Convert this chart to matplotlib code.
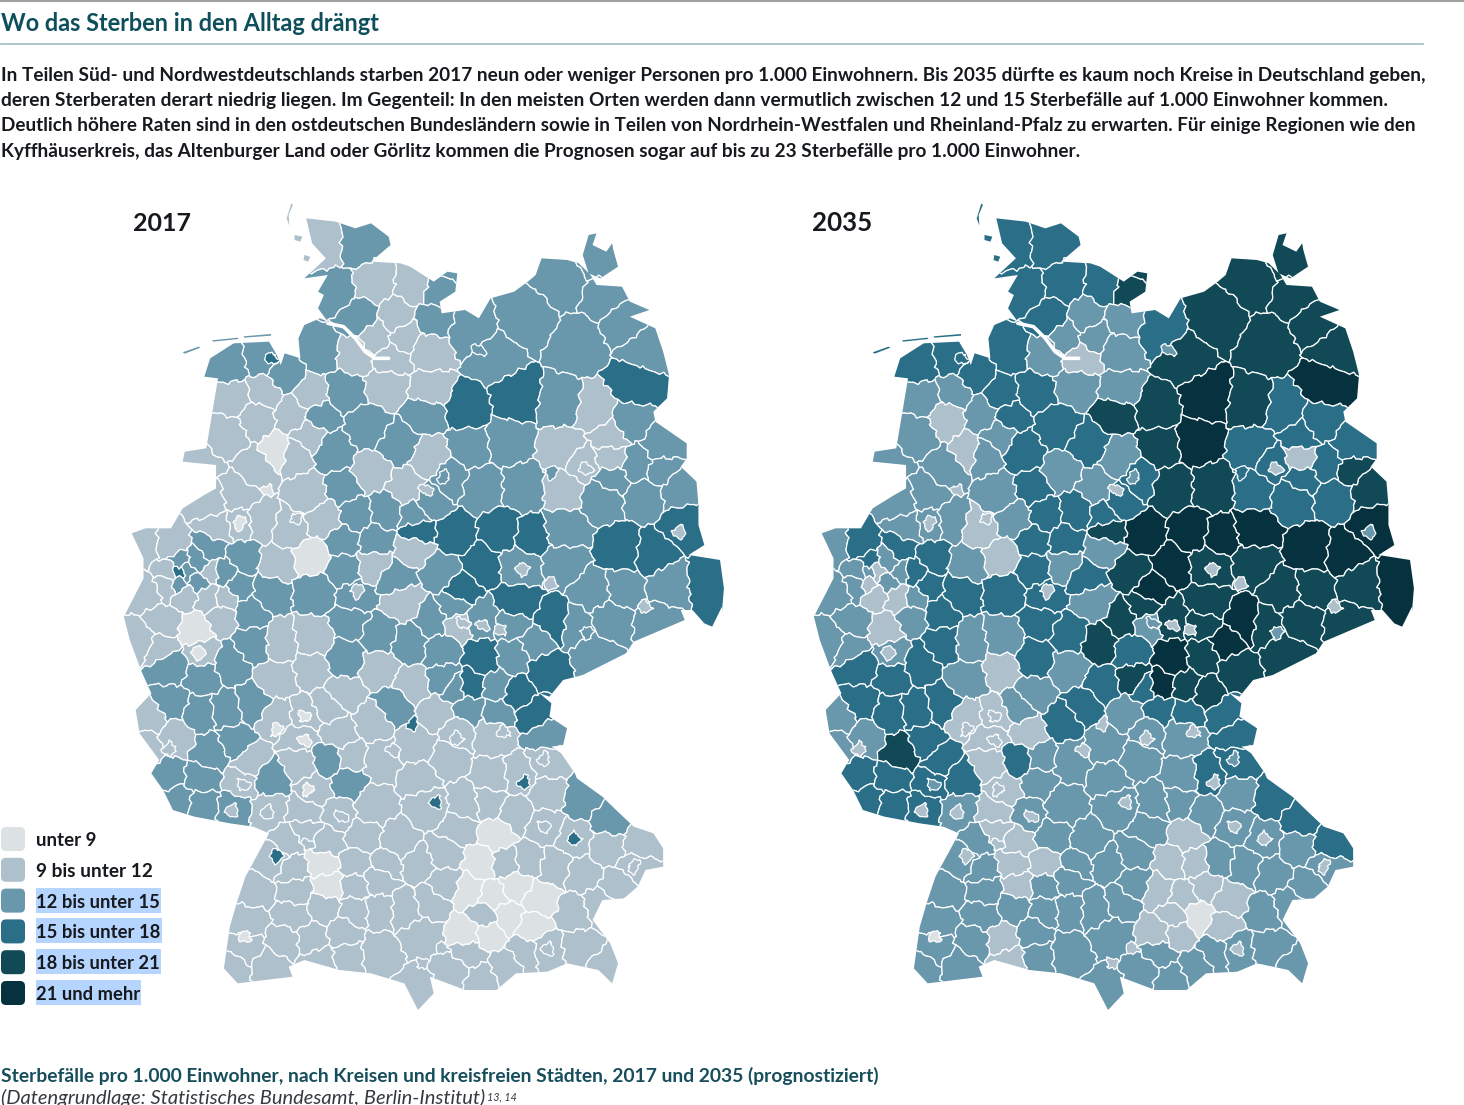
#!/usr/bin/env python3
"""Sterbefaelle pro 1.000 Einwohner, Kreise 2017 und 2035 - zwei Karten nebeneinander."""
import numpy as np
import matplotlib
matplotlib.use('Agg')
import matplotlib.pyplot as plt
from matplotlib.patches import PathPatch, Polygon, FancyBboxPatch, Rectangle
from matplotlib.path import Path
from matplotlib.transforms import Affine2D

# ---------- data ----------
CLASS_LABELS = ['unter 9', '9 bis unter 12', '12 bis unter 15', '15 bis unter 18',
                '18 bis unter 21', '21 und mehr']
CLASS_COLORS = ['#dce1e4', '#adc0cc', '#6997ac', '#2a6f87', '#114a56', '#06323f']
LABEL_WIDTHS = [61, 116, 124, 125, 124, 104]
YEARS = ['2017', '2035']

TITLE = 'Wo das Sterben in den Alltag drängt'
BODY = [
    'In Teilen Süd- und Nordwestdeutschlands starben 2017 neun oder weniger Personen pro 1.000 Einwohnern. Bis 2035 dürfte es kaum noch Kreise in Deutschland geben,',
    'deren Sterberaten derart niedrig liegen. Im Gegenteil: In den meisten Orten werden dann vermutlich zwischen 12 und 15 Sterbefälle auf 1.000 Einwohner kommen.',
    'Deutlich höhere Raten sind in den ostdeutschen Bundesländern sowie in Teilen von Nordrhein-Westfalen und Rheinland-Pfalz zu erwarten. Für einige Regionen wie den',
    'Kyffhäuserkreis, das Altenburger Land oder Görlitz kommen die Prognosen sogar auf bis zu 23 Sterbefälle pro 1.000 Einwohner.',
]
BODY_WIDTHS = [1422, 1384, 1415, 1082]
CAPTION = 'Sterbefälle pro 1.000 Einwohner, nach Kreisen und kreisfreien Städten, 2017 und 2035 (prognostiziert)'
SOURCE = '(Datengrundlage: Statistisches Bundesamt, Berlin-Institut)'

nord_x, nord_y, nord_2017, nord_2035 = zip(*[
    # Schleswig-Holstein, Hamburg
    (520, 150, 1, 3), (610, 150, 2, 3), (650, 260, 1, 3), (750, 270, 1, 3), (815, 290, 2, 4),
    (545, 290, 2, 3), (610, 370, 2, 3), (705, 370, 1, 2), (800, 375, 2, 2), (650, 425, 1, 2),
    (725, 420, 1, 2), (790, 465, 1, 2), (690, 495, 1, 1), (860, 210, 2, 4),
    # Mecklenburg-Vorpommern
    (890, 410, 2, 3), (1040, 370, 2, 4), (1130, 260, 2, 4), (1225, 190, 2, 4), (1170, 450, 2, 4),
    (1290, 380, 2, 4), (1340, 460, 2, 4), (950, 490, 2, 4), (1240, 300, 2, 4),
    # Brandenburg, Berlin
    (1310, 570, 3, 5), (1010, 610, 3, 5), (1125, 630, 2, 4), (1210, 650, 1, 3), (1300, 680, 2, 3),
    (1380, 750, 2, 3), (1250, 790, 1, 1), (1130, 760, 1, 3), (1130, 880, 1, 3), (1230, 900, 2, 3),
    (1340, 900, 2, 3), (1380, 830, 2, 4), (1440, 990, 3, 5), (1130, 1010, 2, 5), (1280, 1070, 3, 5),
    (1360, 1080, 3, 5), (1420, 880, 2, 4), (1250, 725, 1, 3), (1320, 810, 2, 3), (1180, 810, 1, 3),
    (1250, 855, 2, 3),
    # Sachsen
    (1500, 1160, 3, 5), (1400, 1170, 2, 4), (1280, 1180, 2, 4), (1130, 1100, 2, 4), (1210, 1190, 2, 4),
    # Sachsen-Anhalt
    (880, 640, 3, 4), (990, 740, 2, 5), (890, 760, 2, 4), (1030, 880, 2, 4), (920, 880, 2, 4),
    (970, 1010, 3, 5), (850, 1020, 3, 5), (760, 1010, 3, 4), (1050, 1030, 3, 5), (920, 1110, 3, 5),
    (1020, 1110, 2, 4), (870, 1180, 3, 5), (1010, 1230, 3, 4), (790, 920, 2, 3),
    # Niedersachsen, Bremen
    (780, 650, 2, 4), (790, 590, 1, 2), (680, 570, 1, 2), (510, 470, 2, 3), (600, 480, 1, 2),
    (570, 590, 2, 3), (490, 600, 1, 3), (630, 700, 2, 3), (710, 750, 2, 3), (640, 830, 1, 2),
    (790, 790, 1, 2), (730, 880, 1, 2), (840, 850, 2, 3), (570, 880, 2, 3), (545, 770, 2, 3),
    (480, 720, 1, 2), (420, 540, 2, 3), (370, 590, 1, 2), (360, 490, 2, 3), (280, 510, 2, 3),
    (290, 610, 1, 2), (270, 720, 1, 2), (350, 670, 1, 1), (405, 770, 0, 1), (350, 820, 1, 2),
    (200, 810, 1, 2), (440, 660, 1, 2), (510, 660, 2, 3), (600, 960, 2, 3), (680, 950, 2, 3),
    (750, 960, 2, 3), (650, 1040, 2, 3),
    # Nordrhein-Westfalen, Hessen Nord, Thueringen Nord
    (300, 900, 1, 2), (230, 920, 1, 2), (440, 780, 1, 2), (480, 900, 1, 2), (305, 985, 1, 2),
    (250, 1000, 1, 2), (360, 980, 1, 2), (430, 1000, 1, 1), (490, 1090, 0, 1), (520, 970, 1, 2),
    (400, 1110, 1, 2), (570, 1040, 2, 3), (570, 1120, 2, 3), (650, 1110, 1, 2), (750, 1060, 1, 2),
    (820, 1130, 2, 4), (700, 1150, 2, 3), (60, 1060, 1, 2), (130, 1060, 1, 3), (230, 1060, 2, 3),
    (310, 1090, 2, 3), (300, 1180, 2, 3), (150, 1130, 3, 2), (125, 1130, 1, 2), (175, 1130, 2, 1),
    (150, 1165, 2, 1), (150, 1100, 2, 3), (200, 1100, 2, 2), (200, 1160, 2, 2), (230, 1130, 1, 2),
    (265, 1130, 2, 3), (170, 1195, 1, 1), (120, 1170, 1, 2), (225, 1210, 1, 1), (270, 1210, 1, 2),
    (70, 1190, 1, 2), (380, 1190, 2, 3), (500, 1190, 2, 3), (600, 1210, 2, 3),
    (720, 1220, 1, 2), (850, 1240, 2, 4),
])

sued_x, sued_y, sued_2017, sued_2035 = zip(*[
    # Rheinland, Hessen, Rheinland-Pfalz, Saarland
    (60, 120, 1, 2), (110, 70, 1, 2), (195, 90, 0, 1), (260, 50, 1, 2), (330, 40, 2, 3),
    (100, 140, 1, 2), (210, 160, 1, 2), (130, 200, 2, 3), (210, 230, 2, 3), (280, 190, 2, 3),
    (340, 130, 2, 3), (410, 130, 1, 2), (490, 115, 1, 2), (490, 210, 1, 1), (575, 180, 2, 3),
    (660, 210, 1, 2), (740, 260, 1, 3), (590, 60, 2, 3), (660, 100, 2, 3), (130, 310, 2, 3),
    (80, 350, 1, 2), (70, 440, 1, 2), (140, 410, 1, 2), (205, 340, 2, 3), (235, 460, 2, 4),
    (290, 430, 2, 3), (340, 310, 2, 3), (400, 240, 1, 2), (330, 490, 1, 3), (400, 350, 1, 1),
    (470, 350, 1, 1), (460, 410, 1, 1), (530, 320, 1, 2), (460, 490, 1, 1), (530, 480, 2, 3),
    (270, 330, 2, 3), (120, 530, 2, 3), (150, 600, 2, 3), (210, 540, 2, 3), (210, 610, 2, 3),
    (290, 620, 2, 3), (310, 550, 1, 3), (380, 540, 2, 3), (380, 630, 1, 2), (500, 570, 1, 1),
    # Thueringen, Sachsen Sued, Oberfranken
    (740, 130, 2, 4), (820, 150, 2, 3), (830, 240, 2, 4), (895, 255, 3, 5), (925, 175, 3, 5),
    (920, 60, 2, 4), (800, 60, 2, 4), (860, 70, 1, 2), (1000, 170, 2, 4), (1000, 70, 2, 4),
    (1110, 70, 3, 5), (1060, 130, 2, 5), (1160, 80, 2, 4), (1090, 210, 3, 4), (1010, 280, 3, 4),
    (1210, 160, 2, 4), (1250, 60, 2, 4), (1370, 70, 2, 4), (1060, 345, 3, 3), (1085, 400, 2, 3),
    (960, 340, 2, 3), (890, 330, 2, 3), (850, 260, 2, 3), (960, 260, 2, 4),
    # Bayern Nord, Oberpfalz
    (950, 400, 1, 2), (860, 390, 1, 2), (810, 340, 1, 2), (700, 310, 2, 3), (640, 370, 1, 3),
    (570, 280, 1, 2), (560, 400, 1, 1), (580, 550, 2, 2), (660, 480, 1, 2), (590, 470, 1, 2),
    (760, 440, 1, 2), (830, 480, 1, 2), (770, 530, 1, 2), (1090, 490, 1, 3), (1020, 530, 1, 3),
    (950, 540, 1, 2), (1180, 600, 2, 3), (1250, 660, 2, 3), (1330, 735, 1, 3), (1090, 580, 1, 2),
    (1080, 680, 1, 2), (1160, 720, 1, 2), (1240, 740, 1, 2), (1320, 800, 1, 2), (1270, 860, 1, 2),
    (1180, 820, 1, 2), (1040, 780, 1, 2), (1110, 800, 1, 2), (960, 710, 0, 1), (880, 610, 1, 2),
    (790, 620, 1, 2), (860, 690, 1, 2), (1010, 640, 1, 2), (940, 600, 1, 2),
    # Baden-Wuerttemberg, Schwaben, Oberbayern
    (470, 640, 1, 1), (560, 640, 1, 2), (530, 730, 1, 1), (640, 620, 1, 2), (620, 710, 1, 2),
    (710, 730, 1, 2), (760, 790, 1, 2), (680, 790, 1, 2), (430, 720, 1, 2), (470, 690, 1, 1),
    (440, 810, 1, 2), (520, 790, 0, 1), (530, 860, 0, 1), (600, 790, 1, 1), (600, 860, 1, 2),
    (660, 840, 1, 2), (345, 880, 1, 2), (450, 870, 1, 2), (390, 780, 1, 2), (440, 950, 1, 2),
    (520, 920, 1, 2), (660, 930, 1, 2), (600, 930, 1, 2), (730, 930, 1, 2), (330, 960, 1, 2),
    (320, 1050, 1, 2), (290, 1100, 1, 2), (380, 1100, 1, 2), (420, 1020, 1, 2), (490, 1020, 1, 1),
    (510, 1085, 1, 1), (570, 1000, 1, 2), (580, 1070, 1, 2), (660, 1060, 1, 2), (770, 1000, 1, 2),
    (760, 1170, 1, 2), (850, 1110, 1, 2), (790, 910, 1, 2), (830, 850, 1, 2), (830, 760, 1, 2),
    (920, 790, 0, 1), (985, 790, 1, 1), (890, 870, 0, 1), (930, 950, 1, 1), (885, 1000, 0, 1),
    (950, 890, 0, 1), (1010, 860, 0, 1), (1070, 900, 0, 1), (1050, 980, 0, 1), (990, 950, 0, 0),
    (940, 1000, 0, 1), (1030, 1060, 1, 2), (1090, 1050, 1, 2), (890, 1060, 1, 2), (920, 1140, 1, 2),
    (990, 1100, 1, 2), (1170, 1040, 1, 2), (1160, 940, 1, 2), (1220, 920, 1, 2), (1240, 1110, 1, 2),
])

# kreisfreie Staedte as small islands: x, y, class 2017, class 2035
stadt_nord_x, stadt_nord_y, stadt_nord_2017, stadt_nord_2035 = zip(*[
    (388, 490, 3, 3), (375, 885, 0, 1), (305, 985, 0, 1), (1100, 835, 2, 3), (1025, 1125, 1, 1),
    (1100, 1165, 1, 1), (1340, 1235, 1, 1), (1425, 1010, 1, 2), (915, 465, 2, 2), (825, 845, 2, 2),
    (780, 885, 1, 1), (450, 970, 1, 1), (605, 1190, 1, 1), (1190, 820, 1, 1),
])
stadt_sued_x, stadt_sued_y, stadt_sued_2017, stadt_sued_2035 = zip(*[
    (200, 160, 0, 1), (925, 75, 1, 1), (970, 90, 1, 1), (875, 70, 1, 2), (1190, 100, 2, 2),
    (125, 445, 1, 1), (315, 555, 1, 2), (285, 630, 1, 1), (375, 635, 1, 1), (745, 370, 3, 1),
    (695, 450, 1, 1), (860, 415, 1, 1), (980, 395, 1, 1), (1080, 475, 1, 2), (1030, 545, 3, 1),
    (805, 605, 3, 1), (565, 650, 1, 1), (480, 735, 1, 1), (1080, 680, 1, 1), (1160, 715, 3, 1),
    (400, 770, 3, 1), (825, 1045, 1, 1), (1090, 1045, 1, 1), (770, 1090, 1, 1), (320, 1010, 0, 0),
    (480, 570, 0, 1), (1310, 800, 1, 1), (470, 350, 0, 1), (400, 390, 0, 1), (470, 420, 0, 1),
])

# outline of Germany, same crop coordinates
umriss_nord_x, umriss_nord_y = zip(*[
    (475, 70), (550, 80), (600, 100), (640, 85), (685, 125), (690, 150), (640, 200), (715, 205),
    (740, 215), (800, 260), (835, 230), (860, 235), (855, 290), (815, 320), (820, 355), (880, 345),
    (915, 370), (945, 310), (1005, 290), (1040, 260), (1060, 240), (1075, 190), (1140, 195), (1170, 205),
    (1200, 240), (1215, 270), (1280, 275), (1300, 320), (1350, 345), (1300, 365), (1365, 400), (1385, 470),
    (1400, 540), (1395, 610), (1360, 650), (1365, 680), (1445, 745), (1445, 790), (1430, 815), (1470, 860),
    (1475, 930), (1475, 990), (1490, 1050), (1450, 1080), (1530, 1095), (1540, 1180), (1535, 1250),
])
umriss_sued_x, umriss_sued_y = zip(*[
    (1535, 20), (1510, 80), (1490, 70), (1460, 30), (1430, 30), (1440, 60), (1310, 125), (1290, 160),
    (1180, 225), (1130, 240), (1095, 290), (1070, 280), (1100, 310), (1095, 350), (1140, 385), (1130, 435),
    (1100, 440), (1125, 460), (1160, 520), (1165, 535), (1230, 590), (1265, 630), (1310, 680), (1360, 700),
    (1385, 745), (1385, 800), (1340, 810), (1320, 860), (1285, 895), (1230, 900), (1205, 960), (1250, 1030),
    (1270, 1090), (1255, 1150), (1220, 1110), (1140, 1090), (1090, 1115), (1010, 1120), (960, 1170), (880, 1170),
    (790, 1130), (800, 1180), (760, 1230), (725, 1150), (640, 1120), (560, 1110), (470, 1080), (430, 1100),
    (440, 1130), (300, 1150), (265, 1105), (280, 980), (300, 900), (320, 830), (380, 700), (340, 680),
    (280, 670), (190, 650), (135, 630), (110, 570), (80, 520), (100, 480), (50, 400), (40, 330),
    (80, 280), (55, 215), (25, 120), (10, 50),
])
umriss_west_x, umriss_west_y = zip(*[
    (60, 1150), (60, 1090), (30, 1015), (65, 1000), (130, 1000), (160, 940), (215, 900), (245, 880),
    (245, 810), (160, 800), (165, 770), (220, 760), (240, 620), (250, 550), (215, 545), (230, 490),
    (290, 445), (380, 440), (400, 480), (410, 510), (420, 475), (460, 490), (455, 430), (470, 390),
    (510, 370), (530, 380), (505, 340), (520, 300), (505, 290), (530, 240), (470, 250), (525, 190),
    (490, 145),
])
ruegen_x, ruegen_y = zip(*[
    (1195, 120), (1215, 115), (1205, 150), (1240, 170), (1255, 145), (1258, 165), (1270, 215), (1225, 250),
    (1195, 235), (1180, 180),
])
inseln = [
    [(160, 472), (200, 455), (205, 458), (165, 476)],
    [(235, 436), (300, 428), (302, 432), (237, 440)],
    [(315, 424), (385, 417), (385, 422), (317, 428)],
    [(437, 25), (425, 70), (432, 92), (430, 60), (441, 30)],
    [(445, 120), (465, 125), (460, 140), (445, 135)],
    [(470, 180), (485, 185), (480, 200), (468, 195)],
]
elbe_x, elbe_y = zip(*[
    (530, 385), (570, 395), (600, 430), (625, 470), (650, 490), (685, 490),
])

# ---------- helpers ----------
MAP_SHIFT = 690


def nord_px(x, y):
    return 120 + np.asarray(x, float) / 2.55, 195 + np.asarray(y, float) / 3


def sued_px(x, y):
    return 120 + np.asarray(x, float) / 2.55, 600 + np.asarray(y, float) / 3


def clip_halfplane(poly, p, q):
    # keep the side of the bisector of p and q that belongs to p
    mid, n = (p + q) / 2, q - p
    out = []
    for i in range(len(poly)):
        a, b = poly[i], poly[(i + 1) % len(poly)]
        da, db = np.dot(a - mid, n), np.dot(b - mid, n)
        if da <= 0:
            out.append(a)
        if da * db < 0:
            out.append(a + (b - a) * da / (da - db))
    return out


def voronoi_cells(sites):
    box = [np.array(c, float) for c in [(90, 180), (760, 180), (760, 1040), (90, 1040)]]
    cells = []
    for i, p in enumerate(sites):
        poly = box
        d2 = np.sum((sites - p) ** 2, axis=1)
        for j in np.argsort(d2):
            if j != i and len(poly) > 2:
                poly = clip_halfplane(poly, p, sites[j])
        cells.append(np.array(poly))
    return cells


def wobble(poly, step=3.5):
    # split each edge and bend it, so that borders do not run dead straight
    pts = []
    for a, b in zip(poly, np.roll(poly, -1, axis=0)):
        n = max(1, int(np.ceil(np.hypot(*(b - a)) / step)))
        pts.extend(a + (b - a) * k / n for k in range(n))
    pts = np.array(pts)
    dx = 1.6 * np.sin(pts[:, 1] * 0.43 + pts[:, 0] * 0.17) + 0.9 * np.sin(pts[:, 1] * 1.1 - pts[:, 0] * 0.6)
    dy = 1.6 * np.sin(pts[:, 0] * 0.39 - pts[:, 1] * 0.21) + 0.9 * np.sin(pts[:, 0] * 1.05 + pts[:, 1] * 0.7)
    return pts + np.column_stack([dx, dy])


def fit_text(x, y, s, width, size, **kw):
    t = ax.text(x, y, s, fontsize=size, **kw)
    for _ in range(3):
        w = t.get_window_extent(fig.canvas.get_renderer()).width
        t.set_fontsize(t.get_fontsize() * width / w)
    return t


# ---------- figure ----------
NARROW = ['Liberation Sans Narrow', 'Lato', 'DejaVu Sans']
plt.rcParams['font.family'] = ['Lato', 'DejaVu Sans']
fig = plt.figure(figsize=(14.64, 11.05), dpi=100)
ax = fig.add_axes([0, 0, 1, 1])
ax.set_xlim(0, 1464)
ax.set_ylim(1105, 0)
ax.axis('off')

nx, ny = nord_px(nord_x, nord_y)
sx, sy = sued_px(sued_x, sued_y)
sites = np.column_stack([np.r_[nx, sx], np.r_[ny, sy]])
classes = [list(nord_2017) + list(sued_2017), list(nord_2035) + list(sued_2035)]

cx1, cy1 = nord_px(stadt_nord_x, stadt_nord_y)
cx2, cy2 = sued_px(stadt_sued_x, stadt_sued_y)
cities = np.column_stack([np.r_[cx1, cx2], np.r_[cy1, cy2]])
city_classes = [list(stadt_nord_2017) + list(stadt_sued_2017), list(stadt_nord_2035) + list(stadt_sued_2035)]

# outline as a compound path: mainland plus islands
main = np.vstack([np.column_stack(nord_px(umriss_nord_x, umriss_nord_y)),
                  np.column_stack(sued_px(umriss_sued_x, umriss_sued_y)),
                  np.column_stack(nord_px(umriss_west_x, umriss_west_y))])
parts = [main, np.column_stack(nord_px(ruegen_x, ruegen_y))]
parts += [np.column_stack(nord_px(*zip(*isl))) for isl in inseln]
umriss = Path.make_compound_path(*[Path(np.vstack([p, p[0]]), closed=True) for p in parts])

cells = [wobble(c) for c in voronoi_cells(sites)]
angles = np.linspace(0, 2 * np.pi, 9)[:-1]
blob = np.column_stack([np.cos(angles), np.sin(angles)]) * [6.5, 6.5]
for m in range(2):
    offset = np.array([MAP_SHIFT * m, 0])
    clip = PathPatch(Affine2D().translate(*offset).transform_path(umriss), transform=ax.transData,
                     fc='none', ec='none')
    ax.add_patch(clip)
    for cell, c in zip(cells, classes[m]):
        poly = Polygon(cell + offset, closed=True, fc=CLASS_COLORS[c], ec='white', lw=0.9)
        ax.add_patch(poly)
        poly.set_clip_path(clip)
    for pos, c in zip(cities, city_classes[m]):
        poly = Polygon(wobble(blob + pos, 2.0) + offset, closed=True, fc=CLASS_COLORS[c], ec='white', lw=0.9)
        ax.add_patch(poly)
        poly.set_clip_path(clip)
    ex, ey = nord_px(elbe_x, elbe_y)
    ax.plot(ex + offset[0], ey, color='white', lw=2.6, solid_capstyle='round')

# header
ax.plot([0, 1464], [0.5, 0.5], color='#a0a0a0', lw=1.5, clip_on=False)
ax.plot([1, 1423], [44, 44], color='#a9c0c8', lw=1.3)
fit_text(1, 31, TITLE, 378, 20, color='#0e4f5c', fontweight='bold', va='baseline', family=NARROW)
for i, (line, w) in enumerate(zip(BODY, BODY_WIDTHS)):
    fit_text(1, 81 + i * 25.2, line, w, 14, color='#16191d', fontweight='bold', va='baseline')

# year labels
fit_text(133, 231, YEARS[0], 58, 21, color='#16191d', fontweight='bold', va='baseline')
fit_text(812, 231, YEARS[1], 60, 21, color='#16191d', fontweight='bold', va='baseline')

# legend
for i, (lab, col, w) in enumerate(zip(CLASS_LABELS, CLASS_COLORS, LABEL_WIDTHS)):
    y0 = 827 + i * 30.8
    ax.add_patch(FancyBboxPatch((4, y0 + 3), 18, 18, boxstyle='round,pad=3,rounding_size=5', fc=col, ec='none'))
    if i >= 2:
        ax.add_patch(Rectangle((36, y0 - 1), w + 1, 25, fc='#b5d5ff', ec='none'))
    fit_text(36, y0 + 19, lab, w, 15, color='#16191d', fontweight='bold', va='baseline')

# caption, the second line runs off the page as in the source
fit_text(1, 1082, CAPTION, 877, 15, color='#174e5c', fontweight='bold', va='baseline')
fit_text(1, 1104, SOURCE, 485, 15, color='#333a40', style='italic', va='baseline')
fit_text(487, 1100, '13, 14', 30, 8, color='#333a40', style='italic', va='baseline')

fig.savefig('out.png', dpi=100, facecolor='white')
